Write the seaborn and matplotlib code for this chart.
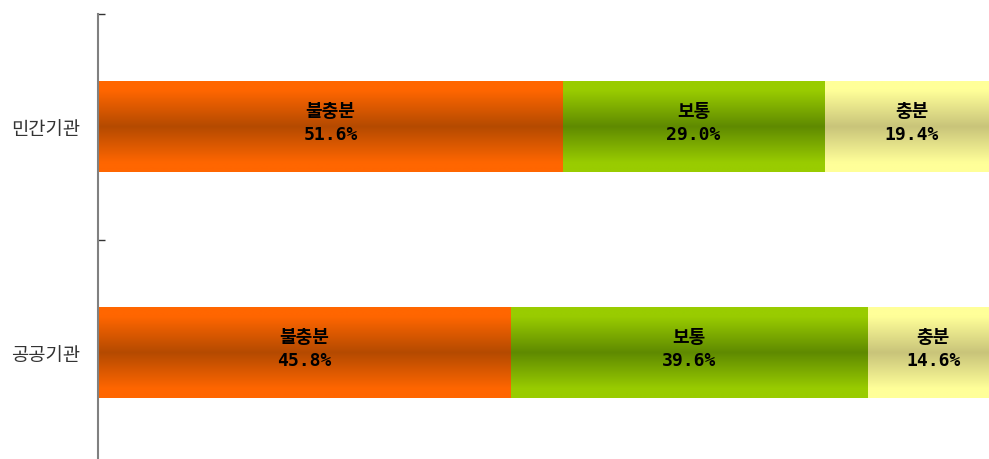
import numpy as np
import pandas as pd
import matplotlib
matplotlib.use('Agg')
import matplotlib.pyplot as plt
import seaborn as sns

# data
groups = ['민간기관', '공공기관']
levels = ['불충분', '보통', '충분']
insufficient = [51.6, 45.8]
normal = [29.0, 39.6]
sufficient = [19.4, 14.6]

# colours: (edge, centre) of the vertical gradient
grad_colors = {
    '불충분': ('#ff6600', '#b44a00'),
    '보통': ('#99cc00', '#5f8a00'),
    '충분': ('#ffff99', '#c9c47a'),
}

sns.set_style('white')
plt.rcParams['font.family'] = ['Noto Sans CJK KR', 'DejaVu Sans']

df = pd.DataFrame({'group': groups, '불충분': insufficient, '보통': normal, '충분': sufficient})
df['c1'] = df['불충분']
df['c2'] = df['c1'] + df['보통']
df['c3'] = df['c2'] + df['충분']

fig = plt.figure(figsize=(9.89, 4.59), dpi=100)
ax = fig.add_axes([98 / 989, 1 - 466 / 459, 901 / 989, 452 / 459])

# stacked bars: draw cumulative totals, largest first
for col in ['c3', 'c2', 'c1']:
    sns.barplot(data=df, x=col, y='group', order=groups, orient='h',
                width=0.4, color='white', ax=ax)

# replace flat fills with vertical gradients
def gradient(edge, centre, n=200):
    e = np.array(matplotlib.colors.to_rgb(edge))
    c = np.array(matplotlib.colors.to_rgb(centre))
    t = np.abs(np.linspace(-1, 1, n))
    m = np.clip(t / 0.8, 0, 1)[:, None]
    return (c * (1 - m) + e * m)[:, None, :]

cum_cols = ['c3', 'c2', 'c1']
lvl_for = {'c3': '충분', 'c2': '보통', 'c1': '불충분'}
prev_for = {'c3': 'c2', 'c2': 'c1', 'c1': None}
for k, col in enumerate(cum_cols):
    for i in range(len(groups)):
        p = ax.patches[k * len(groups) + i]
        p.set_visible(False)
        y0, y1 = p.get_y(), p.get_y() + p.get_height()
        x1 = p.get_x() + p.get_width()
        x0 = df[prev_for[col]].iloc[i] if prev_for[col] else 0
        edge, centre = grad_colors[lvl_for[col]]
        ax.imshow(gradient(edge, centre), extent=(x0, x1, y1, y0),
                  aspect='auto', interpolation='bilinear', zorder=2)

# labels
for i in range(len(groups)):
    left = 0
    for lvl in levels:
        v = df[lvl].iloc[i]
        ax.text(left + v / 2, i - 0.015, f'{lvl}\n{v:.1f}%', ha='center', va='center',
                fontsize=13, fontweight='bold', color='black',
                family=['DejaVu Sans Mono', 'Noto Sans CJK KR'],
                linespacing=1.4, zorder=3)
        left += v

ax.set_xlim(0, 100)
ax.set_ylim(1.5, -0.5)
ax.set_xlabel('')
ax.set_ylabel('')
ax.set_xticks([])
ax.set_yticks(range(len(groups)))
ax.set_yticklabels(groups, fontsize=13.5, color='#333333')
ax.set_yticks([-0.5, 0.5, 1.5], minor=True)
ax.tick_params(axis='y', which='major', left=False, length=0, pad=13)
ax.tick_params(axis='y', which='minor', left=True, direction='in', length=5,
               width=1, color='#333333')
for s in ['top', 'right', 'bottom']:
    ax.spines[s].set_visible(False)
ax.spines['left'].set_color('#808080')
ax.spines['left'].set_linewidth(1.5)

fig.savefig('out.png', dpi=100)
